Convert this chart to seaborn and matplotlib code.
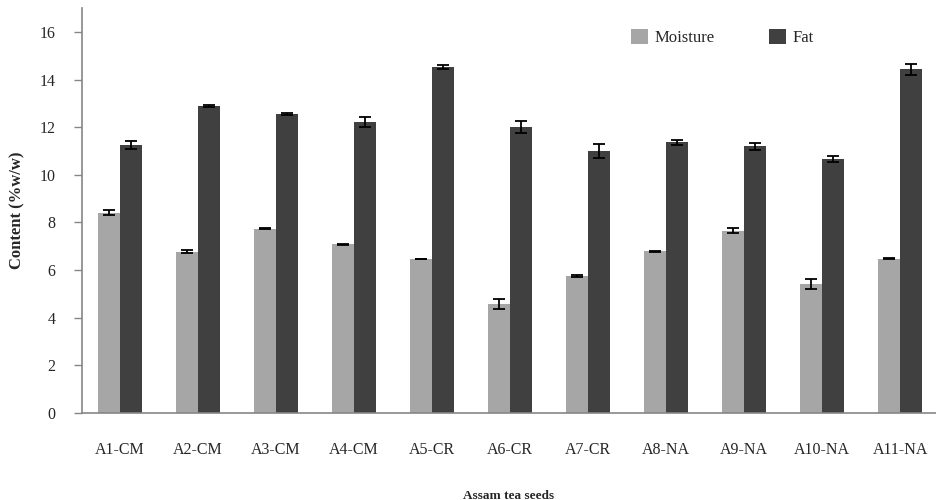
import matplotlib
matplotlib.use("Agg")
import matplotlib.pyplot as plt
import seaborn as sns
import pandas as pd
import numpy as np

# values
samples = ['A1-CM', 'A2-CM', 'A3-CM', 'A4-CM', 'A5-CR', 'A6-CR',
           'A7-CR', 'A8-NA', 'A9-NA', 'A10-NA', 'A11-NA']
moisture = [8.41, 6.77, 7.73, 7.08, 6.46, 4.57, 5.75, 6.78, 7.65, 5.40, 6.47]
moisture_err = [0.11, 0.06, 0.03, 0.03, 0.02, 0.22, 0.03, 0.03, 0.10, 0.21, 0.02]
fat = [11.25, 12.90, 12.55, 12.20, 14.53, 12.00, 11.01, 11.36, 11.20, 10.65, 14.43]
fat_err = [0.18, 0.05, 0.03, 0.21, 0.08, 0.25, 0.30, 0.10, 0.15, 0.13, 0.22]

df = pd.DataFrame({
    'sample': samples * 2,
    'component': ['Moisture'] * len(samples) + ['Fat'] * len(samples),
    'value': moisture + fat,
    'err': moisture_err + fat_err,
})

sns.set_style('ticks')
plt.rcParams['font.family'] = ['Liberation Serif', 'DejaVu Serif']

fig = plt.figure(figsize=(9.36, 5.0), dpi=100)
ax = fig.add_axes([0.0873, 0.1746, 0.9127, 0.809])

sns.barplot(data=df, x='sample', y='value', hue='component',
            palette={'Moisture': '#a6a6a6', 'Fat': '#404040'},
            width=0.573, errorbar=None, saturation=1, linewidth=0,
            edgecolor='none', ax=ax)

# error bars at the bar centres
for cont, comp in zip(ax.containers, ['Moisture', 'Fat']):
    sub = df[df['component'] == comp]
    xs = [b.get_x() + b.get_width() / 2 for b in cont]
    ys = [b.get_height() for b in cont]
    ax.errorbar(xs, ys, yerr=sub['err'].values, fmt='none', ecolor='black',
                elinewidth=1.3, capsize=4.3, capthick=1.3, zorder=5)

ax.set_ylim(0, 17)
ax.set_xlim(-0.49, 10.46)
ax.set_yticks(np.arange(0, 17, 2))
ax.set_yticklabels([str(v) for v in range(0, 17, 2)])

for s in ['top', 'right']:
    ax.spines[s].set_visible(False)
for s in ['left', 'bottom']:
    ax.spines[s].set_color('#868686')
    ax.spines[s].set_linewidth(1.2)

ax.tick_params(axis='y', length=5.8, width=1, color='#868686', pad=13,
               labelsize=11.5)
ax.tick_params(axis='x', length=0, pad=21, labelsize=11.5)

ax.set_xlabel('Assam tea seeds', fontsize=9.5, fontweight='bold', labelpad=23)
ax.set_ylabel('Content (%w/w)', fontsize=12, fontweight='bold', labelpad=10)

handles, labels = ax.get_legend_handles_labels()
ax.legend(handles, labels, ncol=2, frameon=False, loc='center left',
          bbox_to_anchor=(0.643, 0.9266), borderpad=0, borderaxespad=0,
          handlelength=1.0, handleheight=1.0, handletextpad=0.4,
          columnspacing=3.3, fontsize=12)

plt.savefig('out.png', dpi=100)
